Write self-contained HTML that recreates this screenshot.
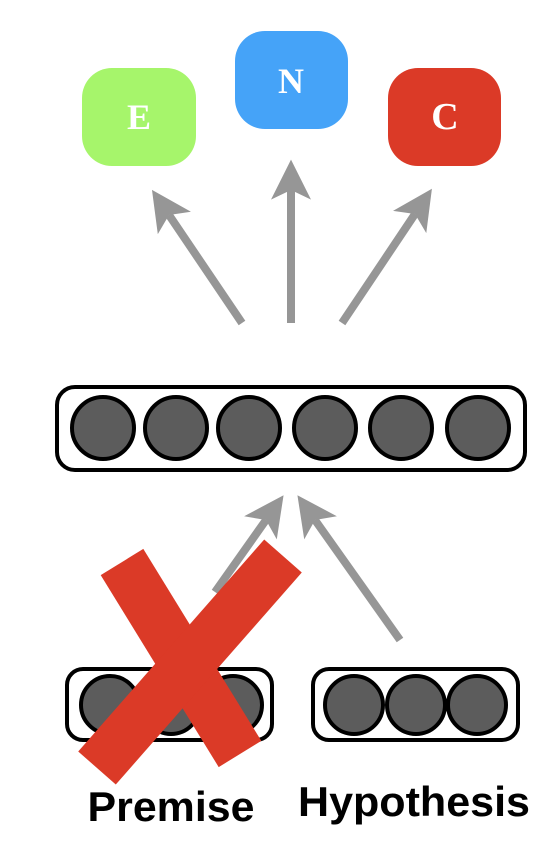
<!DOCTYPE html>
<html><head><meta charset="utf-8"><style>
html,body{margin:0;padding:0;background:#fff;}
svg{display:block;}
</style></head><body>
<svg width="550" height="856" viewBox="0 0 550 856">
<defs>
<marker id="ah" markerWidth="5" markerHeight="5" refX="1.2" refY="2.5" orient="auto" markerUnits="strokeWidth">
<path d="M0,0 L5,2.5 L0,5 L1.2,2.5 Z" fill="#969696"/>
</marker>
</defs>
<g>
<rect x="82" y="68" width="114" height="98" rx="30" fill="#a6f56b"/>
<text x="139" y="129" text-anchor="middle" font-family="Liberation Serif, serif" font-weight="bold" font-size="36" fill="#fff">E</text>
</g>
<g>
<rect x="235" y="31" width="113" height="98" rx="30" fill="#45a3f8"/>
<text x="291" y="93" text-anchor="middle" font-family="Liberation Serif, serif" font-weight="bold" font-size="36" fill="#fff">N</text>
</g>
<g>
<rect x="388" y="68" width="113" height="98" rx="30" fill="#db3a27"/>
<text x="445" y="129" text-anchor="middle" font-family="Liberation Serif, serif" font-weight="bold" font-size="38" fill="#fff">C</text>
</g>
<g stroke="#969696" stroke-width="8" fill="none">
<line x1="242" y1="323" x2="169" y2="215" marker-end="url(#ah)"/>
<line x1="291" y1="323" x2="291" y2="190" marker-end="url(#ah)"/>
<line x1="342" y1="323" x2="415" y2="214" marker-end="url(#ah)"/>
</g>
<g>
<rect x="57" y="387" width="468" height="83" rx="18" fill="#fff" stroke="#000" stroke-width="4"/>
<g fill="#5c5c5c" stroke="#000" stroke-width="4">
<circle cx="103" cy="428" r="31"/><circle cx="176" cy="428" r="31"/><circle cx="249" cy="428" r="31"/>
<circle cx="325" cy="428" r="31"/><circle cx="401" cy="428" r="31"/><circle cx="478" cy="428" r="31"/>
</g>
</g>
<g stroke="#969696" stroke-width="8" fill="none">
<line x1="215" y1="592" x2="266" y2="520" marker-end="url(#ah)"/>
<line x1="400" y1="640" x2="315" y2="520" marker-end="url(#ah)"/>
</g>
<g>
<rect x="67" y="669" width="205" height="71" rx="16" fill="#fff" stroke="#000" stroke-width="4"/>
<g fill="#5c5c5c" stroke="#000" stroke-width="4">
<circle cx="110" cy="705" r="29"/><circle cx="171" cy="705" r="29"/><circle cx="233" cy="705" r="29"/>
</g>
</g>
<g>
<rect x="313" y="669" width="205" height="71" rx="16" fill="#fff" stroke="#000" stroke-width="4"/>
<g fill="#5c5c5c" stroke="#000" stroke-width="4">
<circle cx="354" cy="705" r="29"/><circle cx="416" cy="705" r="29"/><circle cx="477" cy="705" r="29"/>
</g>
</g>
<g stroke="#db3a27" stroke-width="50" stroke-linecap="butt" stroke-linejoin="round" fill="none">
<line x1="122" y1="562" x2="240" y2="754"/>
<line x1="283" y1="556" x2="97" y2="768"/>
</g>
<text x="171" y="821" text-anchor="middle" font-family="Liberation Sans, sans-serif" font-weight="bold" font-size="42" textLength="167" lengthAdjust="spacingAndGlyphs" fill="#000">Premise</text>
<text x="414" y="816" text-anchor="middle" font-family="Liberation Sans, sans-serif" font-weight="bold" font-size="42" textLength="232" lengthAdjust="spacingAndGlyphs" fill="#000">Hypothesis</text>
</svg>
</body></html>
